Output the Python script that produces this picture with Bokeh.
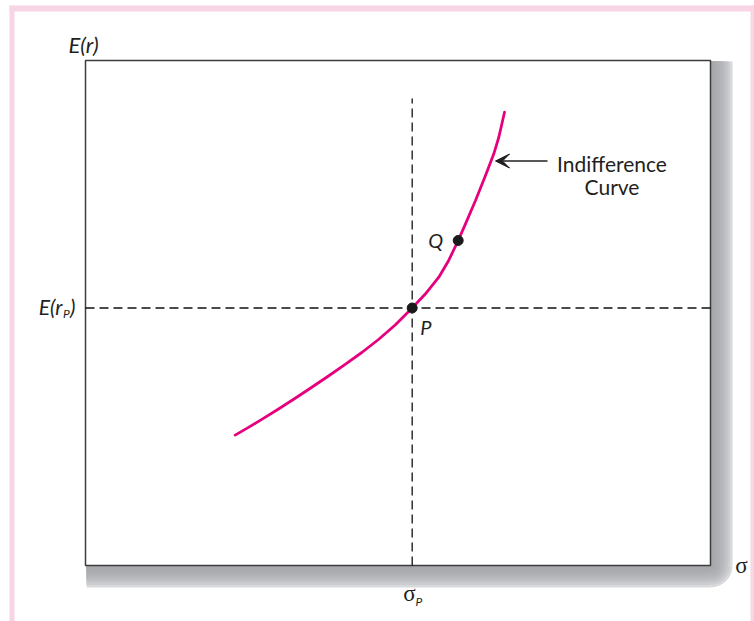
import math
from bokeh.plotting import figure
from bokeh.models import Range1d, Arrow, VeeHead
from bokeh.core.properties import value
from bokeh.embed import file_html
from bokeh.resources import INLINE

# Indifference curve: standard deviation (sigma) vs expected return E(r),
# both in arbitrary units where the framed plot box spans 0..100.
curve_sigma = [23.95, 26.08, 28.21, 30.88, 33.55, 36.21, 38.88, 41.55, 44.21, 46.88,
               49.55, 52.27, 54.40, 56.53, 58.13, 59.63, 60.80, 62.40, 64.00,
               65.33, 66.13, 67.04]
curve_ret = [25.82, 27.35, 28.93, 30.99, 33.11, 35.29, 37.52, 39.84, 42.18, 44.75,
             47.62, 50.99, 53.80, 57.09, 60.46, 64.36, 67.66, 72.28, 77.23,
             81.52, 84.81, 89.76]

point_names = ["P", "Q"]
point_sigma = [52.27, 59.63]
point_ret = [50.99, 64.36]

W, H = 754, 621
BOX_L, BOX_R, BOX_T, BOX_B = 85, 710, 60, 565   # box edges in page pixels
KX = (BOX_R - BOX_L) / 100.0
KY = (BOX_B - BOX_T) / 100.0


def dx(px):
    return (px - BOX_L) / KX


def dy(py):
    return (BOX_B - py) / KY


p = figure(width=W, height=H, min_border=0, toolbar_location=None,
           output_backend="svg", x_axis_location=None, y_axis_location=None,
           x_range=Range1d(dx(0), dx(W)), y_range=Range1d(dy(H), dy(0)))
p.grid.visible = False
p.outline_line_color = None
p.background_fill_color = "white"
p.border_fill_color = "white"

# pink page frame
pink = "#f8d5e4"
p.quad(left=[dx(9), dx(9), dx(750)], right=[dx(14), dx(W), dx(W)],
       bottom=[dy(H), dy(11), dy(H)], top=[dy(5), dy(5), dy(5)],
       fill_color=pink, line_color=None)

# drop shadow on the right and bottom of the box: layered from the
# lightest (widest) to the darkest (narrowest), rounded at the outer corner
shades = ["#a7a8ac", "#a9aaae", "#acadb1", "#b0b1b5", "#b5b6ba", "#bbbcc0",
          "#c3c4c7", "#cccdd0", "#d8d9db"]
depth = 22.0
sw = depth / len(shades)
for i in range(len(shades) - 1, -1, -1):
    c = shades[i]
    ext = (i + 1) * sw
    p.quad(left=dx(BOX_R - 2), right=dx(BOX_R + ext),
           top=dy(BOX_T + 1), bottom=dy(BOX_B),
           fill_color=c, line_color=None)
    p.quad(left=dx(BOX_L + 1), right=dx(BOX_R),
           top=dy(BOX_B - 2), bottom=dy(BOX_B + ext),
           fill_color=c, line_color=None)
    p.wedge(x=dx(BOX_R), y=dy(BOX_B), radius=ext, radius_units="screen",
            start_angle=-math.pi / 2, end_angle=0,
            fill_color=c, line_color=None)

# plot box
p.quad(left=0, right=100, bottom=0, top=100, fill_color="white",
       line_color="#3c3c3c", line_width=1.5)

# dashed guides through P
p.segment(x0=[point_sigma[0], 0], y0=[0, point_ret[0]],
          x1=[point_sigma[0], 100], y1=[dy(98), point_ret[0]],
          line_color="#111111", line_width=1.3, line_dash="9 5")

# the curve and its points
p.line(curve_sigma, curve_ret, line_color="#e6007e", line_width=2.8,
       line_join="round", line_cap="round")
p.scatter(point_sigma, point_ret, size=10, fill_color="#1a1a1a", line_color="#1a1a1a")

font = value("Lato")
ink = "#231f20"

# point labels
p.text(x=point_sigma, y=point_ret, text=point_names,
       x_offset=[8, -15], y_offset=[19, 0],
       text_align=["left", "right"], text_baseline="middle",
       text_font=font, text_font_style="italic", text_font_size="20px",
       text_color=ink)

# annotation arrow and its label
p.add_layout(Arrow(end=VeeHead(size=14, fill_color=ink, line_color=ink),
                   x_start=dx(547), y_start=dy(160.5), x_end=dx(495), y_end=dy(160.5),
                   line_color=ink, line_width=1.4))
p.text(x=[dx(611.5), dx(611.5)], y=[dy(162.5), dy(185.5)],
       text=["Indifference", "Curve"], text_align="center", text_baseline="middle",
       text_font=font, text_font_size="21px", text_color=ink)

# axis labels
p.text(x=[dx(68)], y=[dy(44)], text=["E(r)"], text_align="left", text_baseline="middle",
       text_font=font, text_font_style="italic", text_font_size="22px", text_color=ink)
p.text(x=[dx(62)], y=[dy(306)], text=["E(r"], text_align="right", text_baseline="middle",
       text_font=font, text_font_style="italic", text_font_size="21px", text_color=ink)
p.text(x=[dx(62.5)], y=[dy(313)], text=["P"], text_align="left", text_baseline="middle",
       text_font=font, text_font_style="italic", text_font_size="12px", text_color=ink)
p.text(x=[dx(69.5)], y=[dy(306)], text=[")"], text_align="left", text_baseline="middle",
       text_font=font, text_font_style="italic", text_font_size="21px", text_color=ink)

sym = value("Liberation Serif")
p.text(x=[dx(741)], y=[dy(565)], text=["σ"], text_align="center", text_baseline="middle",
       text_font=sym, text_font_size="23px", text_color=ink)
p.text(x=[dx(409)], y=[dy(593)], text=["σ"], text_align="center", text_baseline="middle",
       text_font=sym, text_font_size="23px", text_color=ink)
p.text(x=[dx(415)], y=[dy(601)], text=["P"], text_align="left", text_baseline="middle",
       text_font=font, text_font_style="italic", text_font_size="12px", text_color=ink)

open("out.html", "w").write(file_html(p, INLINE))
